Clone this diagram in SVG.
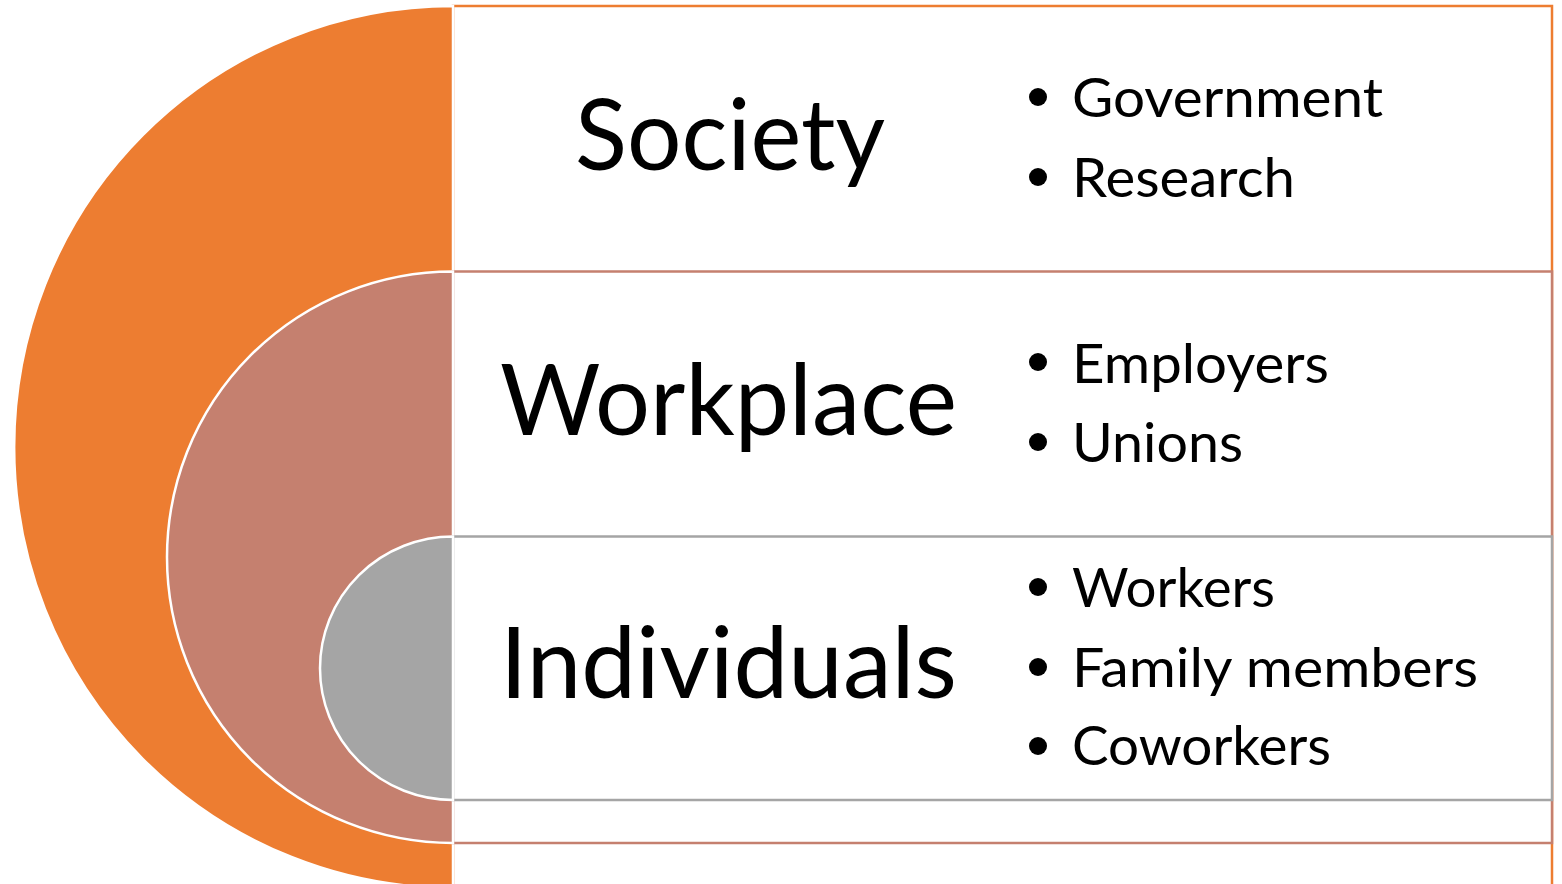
<svg xmlns="http://www.w3.org/2000/svg" width="1562" height="884" viewBox="0 0 1562 884">
  <style>
    .panel { fill: #FFFFFF; stroke-width: 2.5; }
    .arc { stroke: #FFFFFF; stroke-width: 2.5; }
    .title { font-family: Lato, "Open Sans", "Liberation Sans", sans-serif; font-size: 98px; fill: #000000; }
    .item { font-family: Lato, "Open Sans", "Liberation Sans", sans-serif; font-size: 54px; fill: #000000; }
    .dot { fill: #000000; }
  </style>
  <rect width="1562" height="884" fill="#FFFFFF"/>

  <!-- outer level: Society -->
  <g id="society">
    <rect class="panel" x="453" y="6" width="1099" height="920" stroke="#ED7D31"/>
    <path class="arc" d="M453,6 A439,441 0 0 0 453,888 Z" fill="#ED7D31"/>
    <text class="title" x="575" y="170" textLength="310" lengthAdjust="spacingAndGlyphs">Society</text>
    <circle class="dot" cx="1038" cy="97" r="9"/>
    <text class="item" x="1072" y="117" textLength="311" lengthAdjust="spacingAndGlyphs">Government</text>
    <circle class="dot" cx="1038" cy="177" r="9"/>
    <text class="item" x="1072" y="197" textLength="223" lengthAdjust="spacingAndGlyphs">Research</text>
  </g>

  <!-- middle level: Workplace -->
  <g id="workplace">
    <rect class="panel" x="453" y="271.5" width="1099" height="571.5" stroke="#C5806F"/>
    <path class="arc" d="M453,271.5 A286,285.75 0 0 0 453,843 Z" fill="#C5806F"/>
    <text class="title" x="500" y="435" textLength="457" lengthAdjust="spacingAndGlyphs">Workplace</text>
    <circle class="dot" cx="1038" cy="362" r="9"/>
    <text class="item" x="1072" y="383" textLength="257" lengthAdjust="spacingAndGlyphs">Employers</text>
    <circle class="dot" cx="1038" cy="442" r="9"/>
    <text class="item" x="1072" y="462" textLength="171" lengthAdjust="spacingAndGlyphs">Unions</text>
  </g>

  <!-- inner level: Individuals -->
  <g id="individuals">
    <rect class="panel" x="453" y="536.5" width="1099" height="263.5" stroke="#A5A5A5"/>
    <path class="arc" d="M453,536.5 A133,131.75 0 0 0 453,800 Z" fill="#A5A5A5"/>
    <text class="title" x="500" y="698" textLength="457" lengthAdjust="spacingAndGlyphs">Individuals</text>
    <circle class="dot" cx="1038" cy="587" r="9"/>
    <text class="item" x="1072" y="607" textLength="203" lengthAdjust="spacingAndGlyphs">Workers</text>
    <circle class="dot" cx="1038" cy="667" r="9"/>
    <text class="item" x="1072" y="687" textLength="406" lengthAdjust="spacingAndGlyphs">Family members</text>
    <circle class="dot" cx="1038" cy="746" r="9"/>
    <text class="item" x="1072" y="765" textLength="259" lengthAdjust="spacingAndGlyphs">Coworkers</text>
  </g>

  <g id="connectors"/>
</svg>
